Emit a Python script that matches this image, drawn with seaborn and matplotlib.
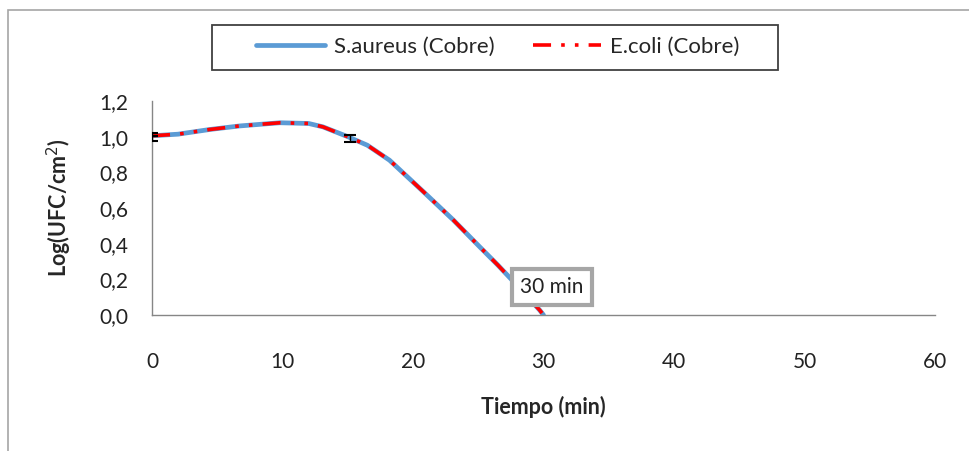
import pandas as pd
import matplotlib.pyplot as plt
import seaborn as sns
from matplotlib.patches import Rectangle

# curve (smoothed Excel line)
tiempo = [0, 2, 4.4, 6.7, 9.8, 12, 13.1, 15, 16.5, 18.2, 20.8, 23.1, 25.1, 26.5, 28, 29.7, 30]
log_ufc = [1.005, 1.014, 1.04, 1.06, 1.078, 1.074, 1.055, 1.0, 0.952, 0.868, 0.691, 0.532,
           0.383, 0.28, 0.164, 0.028, 0.0]

# measured points with error bars
err_x = [0, 0, 15.2]
err_y = [1.0, 1.004, 0.99]
err_sd = [0.022, 0.001, 0.018]

x_ticks = [0, 10, 20, 30, 40, 50, 60]
y_ticks = [0.0, 0.2, 0.4, 0.6, 0.8, 1.0, 1.2]

df = pd.concat([
    pd.DataFrame({'Tiempo': tiempo, 'Log': log_ufc, 'Serie': 'S.aureus (Cobre)'}),
    pd.DataFrame({'Tiempo': tiempo, 'Log': log_ufc, 'Serie': 'E.coli (Cobre)'}),
])

sns.set_style('white')
plt.rcParams['font.family'] = ['Lato', 'DejaVu Sans']

fig = plt.figure(figsize=(9.69, 4.51), dpi=100)
ax = fig.add_axes([152 / 969, 1 - 315 / 451, (935 - 152) / 969, (315 - 101) / 451])

# outer chart frame and legend frame
fig.patches.append(Rectangle((8 / 969, -0.1), 1.2, 1.1 - 10 / 451, transform=fig.transFigure,
                             fill=False, edgecolor='#a6a6a6', lw=1.2, zorder=0))
fig.patches.append(Rectangle((212 / 969, 1 - 70 / 451), 566 / 969, 45 / 451,
                             transform=fig.transFigure, fill=False, edgecolor='#404040',
                             lw=1.3, zorder=0))

sns.lineplot(data=df[df['Serie'] == 'S.aureus (Cobre)'], x='Tiempo', y='Log', sort=False,
             color='#5b9bd5', lw=3.4, ax=ax, label='S.aureus (Cobre)')
sns.lineplot(data=df[df['Serie'] == 'E.coli (Cobre)'], x='Tiempo', y='Log', sort=False,
             color='#ff0000', lw=2.6, ax=ax, label='E.coli (Cobre)')
ax.lines[1].set_dashes((5, 2.8, 1, 2.8, 1, 2.8))

ax.errorbar(err_x, err_y, yerr=err_sd, fmt='none', ecolor='black', elinewidth=1,
            capsize=4.5, capthick=1.5, zorder=5)

ax.set_xlim(0, 60)
ax.set_ylim(0, 1.2)
ax.set_xticks(x_ticks)
ax.set_yticks(y_ticks)
ax.set_yticklabels([f'{v:.1f}'.replace('.', ',') for v in y_ticks])
ax.tick_params(axis='both', direction='out', length=6, width=1, color='#868686',
               labelsize=15, labelcolor='#222222')
ax.tick_params(axis='x', pad=21)
ax.tick_params(axis='y', pad=11)

for s in ['top', 'right']:
    ax.spines[s].set_visible(False)
for s in ['left', 'bottom']:
    ax.spines[s].set_color('#868686')
    ax.spines[s].set_linewidth(1)

ax.set_xlabel('Tiempo (min)', fontsize=15.5, fontweight='bold', labelpad=17)
ax.set_ylabel('Log(UFC/cm$^2$)', fontsize=15.5, fontweight='bold', labelpad=18)

ax.text(30.65, 0.157, '30 min', ha='center', va='center', fontsize=15, color='#222222', zorder=6,
        bbox=dict(boxstyle='square,pad=0.38', fc='white', ec='#a6a6a6', lw=3))

leg = ax.legend(loc='center', bbox_to_anchor=(498 / 969, 1 - 47 / 451),
                bbox_transform=fig.transFigure, ncol=2, fontsize=16, frameon=False,
                handlelength=3.1, columnspacing=1.7, handletextpad=0.4, borderaxespad=0)
leg.set_zorder(10)

plt.savefig('out.png', dpi=100)
